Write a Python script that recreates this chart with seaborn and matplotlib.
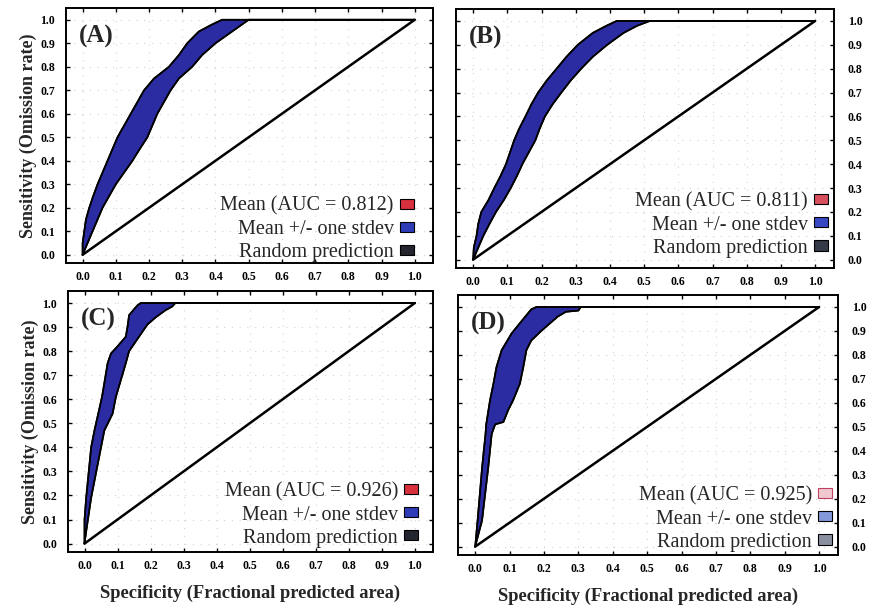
import numpy as np
import pandas as pd
import matplotlib
matplotlib.use("Agg")
import matplotlib.pyplot as plt
from matplotlib.patches import Patch
import seaborn as sns

# ---- data: x (fractional area) and y (sensitivity) of the band edges ----
panels = ["(A)", "(B)", "(C)", "(D)"]
auc_values = [0.812, 0.811, 0.926, 0.925]

ab_levels = [0.0, 0.05, 0.1, 0.15, 0.2, 0.25, 0.3, 0.35, 0.4, 0.45, 0.5, 0.55, 0.6,
             0.65, 0.7, 0.75, 0.8, 0.85, 0.9, 0.95, 0.98, 1.0, 1.0]

# panel A
a_upper_x = [0.0, 0.0, 0.005, 0.01, 0.02, 0.032, 0.045, 0.06, 0.075, 0.09, 0.105, 0.125,
             0.145, 0.165, 0.185, 0.215, 0.26, 0.29, 0.315, 0.35, 0.39, 0.42, 1.0]
a_lower_x = [0.0, 0.015, 0.03, 0.045, 0.06, 0.08, 0.1, 0.125, 0.15, 0.172, 0.195, 0.21,
             0.225, 0.245, 0.265, 0.29, 0.33, 0.36, 0.4, 0.45, 0.48, 0.5, 1.0]

# panel B
b_upper_x = [0.0, 0.002, 0.01, 0.015, 0.024, 0.045, 0.062, 0.08, 0.096, 0.108, 0.12, 0.135,
             0.153, 0.17, 0.19, 0.215, 0.244, 0.273, 0.306, 0.35, 0.39, 0.42, 1.0]
b_lower_x = [0.0, 0.015, 0.03, 0.048, 0.067, 0.09, 0.11, 0.128, 0.144, 0.163, 0.182, 0.195,
             0.21, 0.232, 0.258, 0.285, 0.316, 0.35, 0.392, 0.44, 0.48, 0.517, 1.0]

# panel C
c_upper_x = [0.0, 0.0, 0.005, 0.02, 0.03, 0.053, 0.07, 0.08, 0.1, 0.125, 0.13, 0.135, 0.16, 0.17, 1.0]
c_upper_y = [0.0, 0.1, 0.19, 0.4, 0.47, 0.61, 0.75, 0.79, 0.82, 0.86, 0.9, 0.95, 0.99, 1.0, 1.0]
c_lower_x = [0.0, 0.005, 0.02, 0.04, 0.06, 0.085, 0.095, 0.11, 0.125, 0.135, 0.15, 0.17, 0.19, 0.215, 0.245, 0.265, 0.275, 1.0]
c_lower_y = [0.0, 0.05, 0.19, 0.33, 0.47, 0.54, 0.61, 0.68, 0.75, 0.8, 0.83, 0.87, 0.91, 0.94, 0.97, 0.985, 1.0, 1.0]

# panel D
d_upper_x = [0.0, 0.007, 0.02, 0.03, 0.032, 0.043, 0.053, 0.062, 0.077, 0.106, 0.14, 0.163, 0.178, 1.0]
d_upper_y = [0.0, 0.11, 0.33, 0.47, 0.51, 0.61, 0.68, 0.75, 0.82, 0.89, 0.95, 0.99, 1.0, 1.0]
d_lower_x = [0.0, 0.02, 0.038, 0.048, 0.058, 0.082, 0.096, 0.11, 0.13, 0.14, 0.149, 0.163, 0.192, 0.216, 0.24, 0.264, 0.30, 0.307, 1.0]
d_lower_y = [0.0, 0.11, 0.33, 0.47, 0.51, 0.52, 0.57, 0.61, 0.68, 0.75, 0.82, 0.86, 0.9, 0.93, 0.96, 0.98, 0.985, 1.0, 1.0]

random_x = [0.0, 1.0]
random_y = [0.0, 1.0]

ticks = [0.0, 0.1, 0.2, 0.3, 0.4, 0.5, 0.6, 0.7, 0.8, 0.9, 1.0]
tick_labels = ["0.0", "0.1", "0.2", "0.3", "0.4", "0.5", "0.6", "0.7", "0.8", "0.9", "1.0"]

edges = [
    (a_upper_x, ab_levels, a_lower_x, ab_levels),
    (b_upper_x, ab_levels, b_lower_x, ab_levels),
    (c_upper_x, c_upper_y, c_lower_x, c_lower_y),
    (d_upper_x, d_upper_y, d_lower_x, d_lower_y),
]

# ---- styling ----
sns.set_theme(style="white")
plt.rcParams["font.family"] = ["Liberation Serif", "DejaVu Serif"]

band_color = "#2c2ca2"
legend_colors = [
    ("#d8303c", "#2e3cb8", "#23262e"),
    ("#d8505e", "#3848c4", "#353a48"),
    ("#d8303c", "#2e3cb8", "#23262e"),
    ("#f0c8d0", "#8498dc", "#8a90a0"),
]
legend_edges = ["black", "black", "black", "#c04060"]
# where each legend's lower-right corner sits (axes fraction)
legend_anchor = [(0.948, 0.004), (0.984, 0.04), (0.959, 0.017), (0.984, 0.013)]

fig = plt.figure(figsize=(8.73, 6.06), dpi=100)
W, H = 873, 606
# axes boxes in pixels: left, top, right, bottom
boxes = [(66, 8, 433, 263), (456, 9, 834, 268), (68, 291, 433, 552), (458, 295, 838, 555)]

for i, (lbl, auc, (ux, uy, lx, ly), box) in enumerate(zip(panels, auc_values, edges, boxes)):
    l, t, r, b = box
    ax = fig.add_axes([l / W, 1 - b / H, (r - l) / W, (b - t) / H])

    # band between upper and lower edge
    poly_x = np.concatenate([ux, lx[::-1]])
    poly_y = np.concatenate([uy, ly[::-1]])
    ax.fill(poly_x, poly_y, facecolor=band_color, edgecolor="black", linewidth=1.2, zorder=2)

    edge_df = pd.DataFrame({"x": ux, "y": uy})
    sns.lineplot(data=edge_df, x="x", y="y", sort=False, estimator=None,
                 color="black", linewidth=1.2, ax=ax, zorder=3)
    edge_df = pd.DataFrame({"x": lx, "y": ly})
    sns.lineplot(data=edge_df, x="x", y="y", sort=False, estimator=None,
                 color="black", linewidth=1.2, ax=ax, zorder=3)

    rnd_df = pd.DataFrame({"x": random_x, "y": random_y})
    sns.lineplot(data=rnd_df, x="x", y="y", color="black", linewidth=1.8, ax=ax, zorder=3)

    ax.set_xlim(-0.05, 1.055)
    ax.set_ylim(-0.035, 1.05)
    ax.set_xticks(ticks)
    ax.set_xticklabels(tick_labels)
    ax.set_yticks(ticks)
    ax.set_yticklabels(tick_labels)
    ax.grid(True, color="#d4d4d4", linestyle=(0, (1, 6)), linewidth=0.8)
    for s in ax.spines.values():
        s.set_color("black")
        s.set_linewidth(1.4)

    right = i % 2 == 1
    ax.tick_params(direction="in", length=3, width=1, top=True, bottom=True,
                   left=True, right=True, labelleft=not right, labelright=right,
                   labelsize=8.5, colors="black")
    ax.tick_params(axis="x", pad=6)
    ax.tick_params(axis="y", pad=10 if right else 8)
    for t_ in ax.get_xticklabels() + ax.get_yticklabels():
        t_.set_fontweight("bold")

    ax.set_xlabel("")
    ax.set_ylabel("")
    if not right:
        ax.set_ylabel("Sensitivity (Omission rate)", fontsize=13, fontweight="bold", labelpad=2)
    if i >= 2:
        ax.set_xlabel("Specificity (Fractional predicted area)", fontsize=13.3, fontweight="bold", labelpad=9)

    ax.text(0.035, 0.935, lbl, transform=ax.transAxes, fontsize=18, fontweight="bold",
            ha="left", va="top")

    cm, cs, cr = legend_colors[i]
    handles = [
        Patch(facecolor=cm, edgecolor=legend_edges[i], linewidth=0.8, label=f"Mean (AUC = {auc:.3f})"),
        Patch(facecolor=cs, edgecolor="black", linewidth=0.8, label="Mean +/- one stdev"),
        Patch(facecolor=cr, edgecolor="black", linewidth=0.8, label="Random prediction"),
    ]
    ax.legend(handles=handles, loc="lower right", bbox_to_anchor=legend_anchor[i],
              markerfirst=False, frameon=False,
              fontsize=14.5, handlelength=0.7, handleheight=0.4, handletextpad=0.3,
              labelspacing=0.2, borderaxespad=0.0, borderpad=0.0)

fig.savefig("out.png", dpi=100)
